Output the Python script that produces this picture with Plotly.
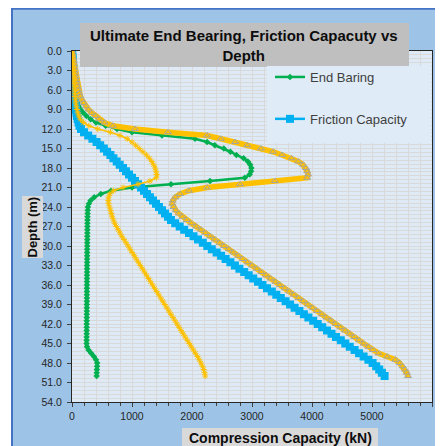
import plotly.graph_objects as go

# Depth below ground (m)
depth = [
    0.0, 0.5, 1.0, 1.5, 2.0, 2.5, 3.0, 3.5, 4.0, 4.5,
    5.0, 5.5, 6.0, 6.5, 7.0, 7.5, 8.0, 8.5, 9.0, 9.5,
    10.0, 10.5, 11.0, 11.5, 12.0, 12.5, 13.0, 13.5, 14.0, 14.5,
    15.0, 15.5, 16.0, 16.5, 17.0, 17.5, 18.0, 18.5, 19.0, 19.5,
    20.0, 20.5, 21.0, 21.5, 22.0, 22.5, 23.0, 23.5, 24.0, 24.5,
    25.0, 25.5, 26.0, 26.5, 27.0, 27.5, 28.0, 28.5, 29.0, 29.5,
    30.0, 30.5, 31.0, 31.5, 32.0, 32.5, 33.0, 33.5, 34.0, 34.5,
    35.0, 35.5, 36.0, 36.5, 37.0, 37.5, 38.0, 38.5, 39.0, 39.5,
    40.0, 40.5, 41.0, 41.5, 42.0, 42.5, 43.0, 43.5, 44.0, 44.5,
    45.0, 45.5, 46.0, 46.5, 47.0, 47.5, 48.0, 48.5, 49.0, 49.5,
    50.0,
]

# End bearing (kN)
end_bearing = [
    0, 5, 10, 14, 18, 22, 26, 30, 34, 38,
    43, 48, 54, 60, 68, 78, 92, 110, 140, 185,
    240, 310, 400, 560, 750, 1000, 1500, 2050, 2250, 2380,
    2530, 2640, 2740, 2860, 2930, 2970, 2990, 2985, 2960, 2880,
    2300, 1650, 1000, 650, 480, 370, 310, 280, 265, 262,
    260, 259, 258, 257, 257, 256, 256, 255, 255, 254,
    254, 253, 253, 252, 252, 252, 251, 251, 251, 250,
    250, 250, 249, 249, 249, 248, 248, 248, 247, 247,
    247, 246, 246, 246, 245, 245, 245, 245, 244, 244,
    244, 250, 275, 320, 365, 400, 420, 418, 415, 412,
    410,
]

# Friction capacity (kN)
friction = [
    0, 5, 10, 14, 18, 21, 24, 27, 30, 33,
    36, 39, 42, 45, 48, 52, 56, 61, 67, 74,
    82, 95, 110, 125, 150, 200, 270, 340, 410, 470,
    530, 585, 640, 690, 745, 795, 850, 900, 950, 1000,
    1050, 1100, 1150, 1200, 1250, 1300, 1350, 1400, 1450, 1500,
    1550, 1600, 1650, 1720, 1795, 1870, 1950, 2025, 2100, 2180,
    2255, 2330, 2410, 2485, 2560, 2640, 2715, 2790, 2870, 2945,
    3020, 3100, 3175, 3250, 3330, 3405, 3480, 3560, 3635, 3710,
    3790, 3865, 3940, 4020, 4095, 4170, 4250, 4325, 4400, 4480,
    4555, 4630, 4710, 4785, 4860, 4940, 5010, 5070, 5120, 5165,
    5210,
]

# Ultimate total capacity (kN)
ultimate = [
    0, 10, 20, 28, 35, 42, 48, 55, 62, 70,
    80, 92, 105, 120, 140, 165, 195, 230, 275, 330,
    390, 450, 540, 680, 1050, 1600, 2250, 2480, 2720, 2920,
    3150, 3350, 3500, 3660, 3770, 3850, 3900, 3920, 3935, 3920,
    3380, 2800, 2250, 1950, 1800, 1720, 1680, 1670, 1690, 1730,
    1780, 1840, 1910, 1990, 2070, 2150, 2225, 2305, 2380, 2460,
    2535, 2615, 2690, 2770, 2845, 2925, 3000, 3080, 3155, 3235,
    3310, 3390, 3465, 3545, 3620, 3700, 3775, 3855, 3930, 4010,
    4085, 4165, 4240, 4320, 4395, 4475, 4550, 4630, 4705, 4785,
    4860, 4940, 5015, 5110, 5250, 5390, 5460, 5510, 5550, 5580,
    5600,
]

# Allowable capacity (kN)
allowable = [
    0, 4, 8, 11, 14, 17, 20, 23, 26, 29,
    32, 36, 40, 45, 50, 56, 63, 72, 83, 97,
    115, 140, 190, 280, 430, 640, 800, 920, 1000, 1060,
    1120, 1180, 1240, 1290, 1330, 1360, 1385, 1400, 1410, 1405,
    1300, 1100, 850, 690, 630, 610, 605, 610, 625, 640,
    655, 670, 690, 710, 740, 770, 800, 830, 865, 900,
    935, 969, 1003, 1037, 1071, 1105, 1139, 1173, 1207, 1241,
    1275, 1309, 1343, 1377, 1411, 1445, 1479, 1513, 1547, 1581,
    1615, 1649, 1683, 1717, 1751, 1785, 1819, 1853, 1887, 1921,
    1955, 1989, 2023, 2057, 2091, 2120, 2150, 2175, 2195, 2210,
    2220,
]

FONT = "Arial, Liberation Sans, sans-serif"

fig = go.Figure()
fig.add_trace(go.Scatter(
    x=end_bearing, y=depth, name="End Baring", mode="lines+markers",
    line=dict(color="#00B050", width=2.5),
    marker=dict(symbol="diamond", size=5, color="#00B050"),
    legendgroup="a",
))
fig.add_trace(go.Scatter(
    x=friction, y=depth, name="Friction Capacity", mode="lines+markers",
    line=dict(color="#00B0F0", width=2.5),
    marker=dict(symbol="square", size=8, color="#00B0F0"),
    legendgroup="b",
))
fig.add_trace(go.Scatter(
    x=ultimate, y=depth, name="Ultimate Capacity", mode="lines+markers",
    line=dict(color="#FFC000", width=5.5),
    marker=dict(symbol="triangle-up", size=6, color="#FFC000",
                line=dict(color="#A5A5A5", width=1)),
    showlegend=False,
))
fig.add_trace(go.Scatter(
    x=allowable, y=depth, name="Allowable Capacity", mode="lines+markers",
    line=dict(color="#FFC000", width=1.5),
    marker=dict(symbol="asterisk-open", size=5, color="#FFC000",
                line=dict(color="#FFC000", width=1)),
    showlegend=False,
))

# page pixel -> paper helpers (plot area on the page is 72..432 x 51..402;
# the page body adds an 8px offset, so the figure is 8px smaller)
def px(X):
    return (X - 72) / 360

def py(Y):
    return (402 - Y) / 351

shapes = [
    # white strip left of the chart and its blue border
    dict(type="rect", xref="paper", yref="paper", x0=px(0), x1=px(12), y0=py(460), y1=py(0),
         fillcolor="white", line_width=0, layer="above"),
    dict(type="line", xref="paper", yref="paper", x0=px(12), x1=px(460), y0=py(8.8), y1=py(8.8),
         line=dict(color="#4472C4", width=2), layer="above"),
    dict(type="line", xref="paper", yref="paper", x0=px(12), x1=px(12), y0=py(8), y1=py(460),
         line=dict(color="#4472C4", width=2), layer="above"),
    # title box
    dict(type="rect", xref="paper", yref="paper", x0=px(80), x1=px(409), y0=py(67), y1=py(23),
         fillcolor="#BFBFBF", line_width=0, layer="above"),
    # legend box
    dict(type="rect", xref="paper", yref="paper", x0=px(267), x1=px(431), y0=py(143), y1=py(66),
         fillcolor="#DFEBF7", line_width=0, layer="above"),
    # axis title boxes
    dict(type="rect", xref="paper", yref="paper", x0=px(182), x1=px(378), y0=py(450), y1=py(428),
         fillcolor="#D9D9D9", line_width=0, layer="above"),
    dict(type="rect", xref="paper", yref="paper", x0=px(22), x1=px(43), y0=py(258), y1=py(196),
         fillcolor="#D9D9D9", line_width=0, layer="above"),
]

annotations = [
    dict(text="<b>Ultimate End Bearing, Friction Capacuty vs<br>Depth</b>",
         xref="paper", yref="paper", x=px(244), y=py(45), xanchor="center", yanchor="middle",
         showarrow=False, font=dict(family=FONT, size=15, color="#0D0D0D")),
    dict(text="<b>Compression Capacity (kN)</b>", xref="paper", yref="paper",
         x=px(280), y=py(438), xanchor="center", yanchor="middle", showarrow=False,
         font=dict(family=FONT, size=14, color="#0D0D0D")),
    dict(text="<b>Depth (m)</b>", xref="paper", yref="paper", textangle=-90,
         x=px(32.5), y=py(227), xanchor="center", yanchor="middle", showarrow=False,
         font=dict(family=FONT, size=13, color="#0D0D0D")),
]

fig.update_layout(
    width=435, height=438, autosize=False,
    margin=dict(l=64, r=11, t=43, b=44),
    paper_bgcolor="#9DC3E6",
    plot_bgcolor="#DEEBF7",
    font=dict(family=FONT, size=10.5, color="#262626"),
    showlegend=True,
    legend=dict(x=px(270), y=py(62), xanchor="left", yanchor="top",
                bgcolor="rgba(0,0,0,0)", traceorder="grouped", tracegroupgap=22,
                font=dict(family=FONT, size=13, color="#404040")),
    shapes=shapes,
    annotations=annotations,
    xaxis=dict(range=[0, 6000], dtick=1000, tick0=0, showgrid=True, gridcolor="#D9D9D9",
               ticks="outside", ticklen=4, tickcolor="#404040",
               showline=True, linecolor="#262626", mirror=True, zeroline=False,
               minor=dict(dtick=200, showgrid=True, gridcolor="#D9D9D9",
                          ticks="outside", ticklen=3, tickcolor="#404040")),
    yaxis=dict(range=[54, 0], dtick=3, tick0=0, tickformat=".1f", showgrid=True,
               gridcolor="#D9D9D9", ticks="outside", ticklen=4, tickcolor="#404040",
               ticklabelstandoff=3,
               showline=True, linecolor="#262626", mirror=True, zeroline=False,
               minor=dict(dtick=0.6, showgrid=True, gridcolor="#D9D9D9")),
)

fig.write_html("out.html")
